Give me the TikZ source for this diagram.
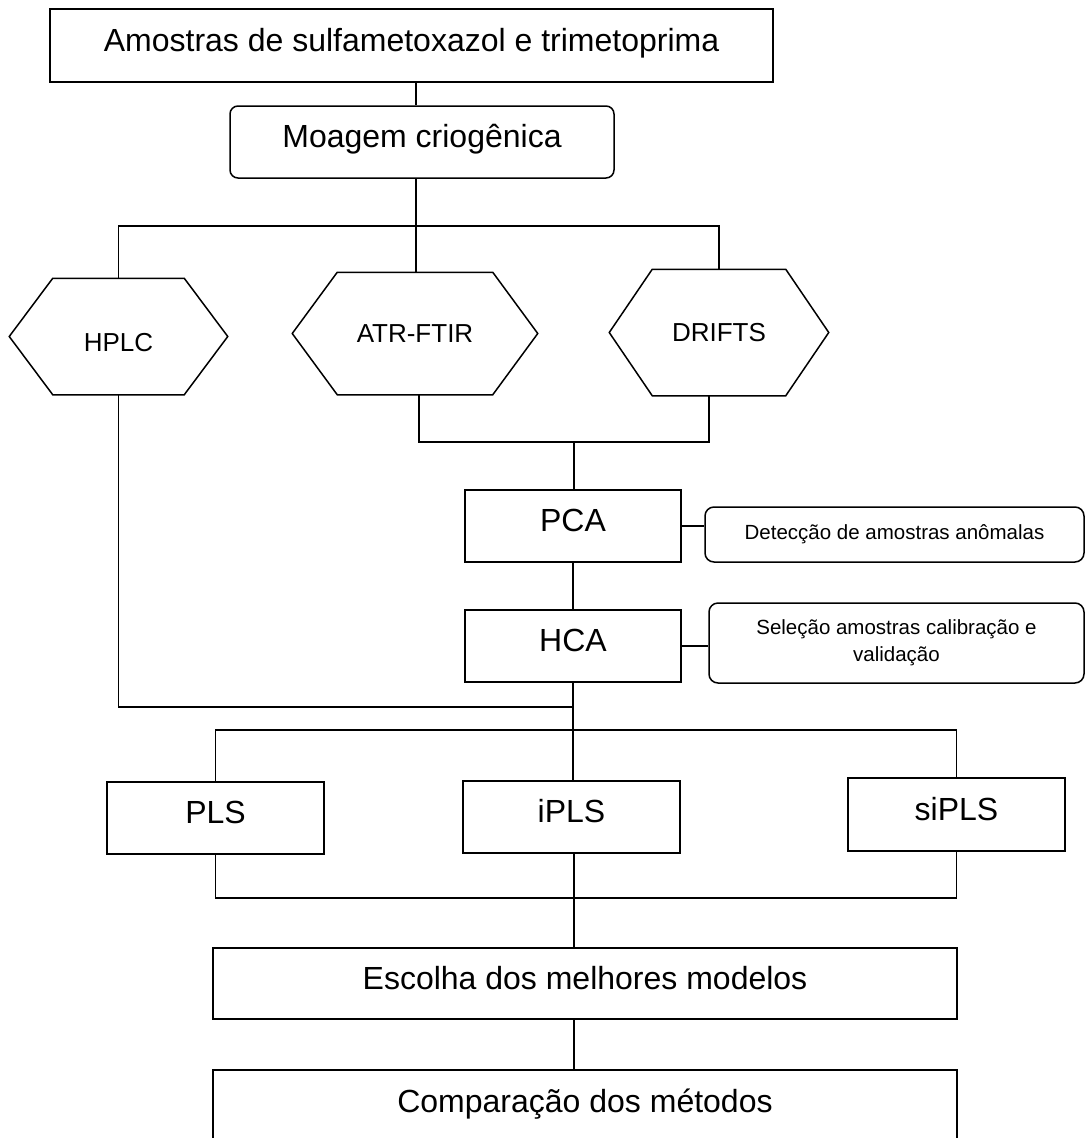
\documentclass[tikz,border=0pt]{standalone}
\usepackage{fontspec}
\setmainfont{Liberation Sans}
\usepackage{tikz}
\newcommand{\hexout}[2]{%
  \draw (#1.west) -- ([xshift=#2]#1.north west) -- ([xshift=-#2]#1.north east)
    -- (#1.east) -- ([xshift=-#2]#1.south east) -- ([xshift=#2]#1.south west) -- cycle;}

\begin{document}
\begin{tikzpicture}[
  x=1pt,y=-1pt,
  line width=1.5pt,
  box/.style={draw,inner sep=0pt,text height=23pt,text depth=12pt,
    font=\fontsize{32}{38}\selectfont},
  rbox/.style={box,rounded corners=8pt},
  hexa/.style={inner sep=0pt,font=\fontsize{26}{31}\selectfont},
  note/.style={draw,rounded corners=9pt,inner sep=0pt,align=center,
    font=\fontsize{20.5}{27}\selectfont}
]
\useasboundingbox (0,0) rectangle (1086,1138);
\clip (0,0) rectangle (1086,1138);

% ---------------- amostras e moagem ----------------
\node[box,minimum width=723pt,minimum height=73pt] (top) at (411.5,45.5)
  {Amostras de sulfametoxazol e trimetoprima};
\node[rbox,minimum width=384pt,minimum height=72pt] (moag) at (422,142)
  {Moagem criogênica};

% ---------------- tecnicas ----------------
\node[hexa,minimum width=217pt,minimum height=115pt,text height=30pt] (hplc) at (118.5,336.5) {HPLC};
\node[hexa,minimum width=244pt,minimum height=121pt] (atr) at (415,333.5) {ATR-FTIR};
\node[hexa,minimum width=218pt,minimum height=125pt] (drifts) at (719,332.5) {DRIFTS};
\hexout{hplc}{43.5pt}
\hexout{atr}{45pt}
\hexout{drifts}{43pt}

\coordinate (b1) at (416,226);
\draw (top.south -| b1) -- (b1 |- moag.north);
\draw (b1 |- moag.south) -- (b1);
\draw (hplc.north) |- (b1) -| (drifts.north);
\draw (b1) -- (b1 |- atr.north);

% ---------------- PCA / HCA ----------------
\node[box,minimum width=216pt,minimum height=72pt] (pca) at (573,526) {PCA};
\node[box,minimum width=216pt,minimum height=72pt] (hca) at (573,646) {HCA};
\node[note,minimum width=379pt,minimum height=55pt] (det) at (894.5,534.5)
  {Detecção de amostras anômalas};
\node[note,minimum width=375pt,minimum height=80pt] (sel) at (896.5,643)
  {Seleção amostras calibração e\\validação};

\coordinate (b2) at (574,442);
\draw ([xshift=4pt]atr.south) |- (b2) -| ([xshift=-10pt]drifts.south);
\draw (b2) -- (b2 |- pca.north);
\draw (pca.south) -- (hca.north);
\draw (pca.east) -- (pca.east -| det.west);
\draw (hca.east) -- (hca.east -| sel.west);

% ---------------- modelos ----------------
\node[box,minimum width=217pt,minimum height=72pt] (pls) at (215.5,818) {PLS};
\node[box,minimum width=217pt,minimum height=72pt] (ipls) at (571.5,817) {iPLS};
\node[box,minimum width=217pt,minimum height=73pt] (sipls) at (956.5,814.5) {siPLS};

\coordinate (b3) at (573,707);
\coordinate (b4) at (573,730);
\draw (hplc.south) |- (b3);
\draw (hca.south) -- (b4);
\draw (pls.north) |- (b4) -| (sipls.north);
\draw (b4) -- (b4 |- ipls.north);

% ---------------- escolha e comparacao ----------------
\node[box,minimum width=744pt,minimum height=71pt] (esc) at (585,983.5)
  {Escolha dos melhores modelos};
\node[box,minimum width=744pt,minimum height=73pt] (comp) at (585,1106.5)
  {Comparação dos métodos};

\coordinate (b5) at (574,898);
\draw (pls.south) |- (b5) -| (sipls.south);
\draw (b5 |- ipls.south) -- (b5 |- esc.north);
\draw (b5 |- esc.south) -- (b5 |- comp.north);
\end{tikzpicture}
\end{document}
